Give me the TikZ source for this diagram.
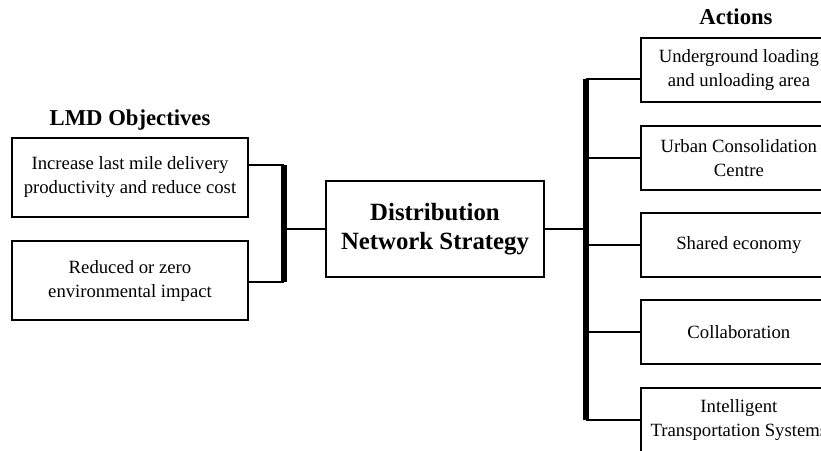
\documentclass[tikz,border=0pt]{standalone}
\usepackage{fontspec}
\setmainfont{Liberation Serif}
\begin{document}
\begin{tikzpicture}[x=1pt,y=-1pt,
  box/.style={draw,line width=1.8pt,align=center,inner sep=0pt,font=\fontsize{18.7}{24}\selectfont},
  objbox/.style={box,minimum width=236pt,minimum height=79pt},
  actbox/.style={box,minimum width=196pt,minimum height=64pt,anchor=west},
  link/.style={line width=1.8pt},
  bar/.style={line width=5.5pt},
  heading/.style={font=\bfseries\fontsize{22.7}{26}\selectfont}]
\useasboundingbox (0,0) rectangle (821,450);
\clip (0,0) rectangle (821,450);

% headings
\node[heading] (hobj) at (130,120) {LMD Objectives};
\node[heading] (hact) at (736,17) {Actions};

% objectives
\node[objbox] (o1) at (130,177.5) {Increase last mile delivery\\productivity and reduce cost};
\node[objbox] (o2) at (130,280.5) {Reduced or zero\\environmental impact};

% strategy
\node[box,minimum width=218pt,minimum height=96pt,
      font=\bfseries\fontsize{24.8}{29}\selectfont] (dns) at (435,229)
      {Distribution\\Network Strategy};

% actions
\node[actbox] (a1) at (640,70)  {Underground loading\\and unloading area};
\node[actbox] (a2) at (640,158) {Urban Consolidation\\Centre};
\node[actbox] (a3) at (640,245) {Shared economy};
\node[actbox] (a4) at (640,332) {Collaboration};
\node[actbox] (a5) at (640,420) {Intelligent\\Transportation Systems};

% left bracket
\coordinate (lt) at (284,165);
\coordinate (lb) at (284,282);
\coordinate (lm) at (284,229);
\draw[bar] (lt) -- (lb);
\draw[link] (lt -| o1.east) -- (lt);
\draw[link] (lb -| o2.east) -- (lb);
\draw[link] (lm) -- (dns.west);

% right bracket
\coordinate (rt) at (586,79);
\coordinate (rb) at (586,420);
\draw[bar] (rt) -- (rb);
\draw[link] (dns.east) -- (dns.east -| rt);
\draw[link] (rt) -- (rt -| a1.west);
\draw[link] (a2.west -| rt) -- (a2.west);
\draw[link] (a3.west -| rt) -- (a3.west);
\draw[link] (a4.west -| rt) -- (a4.west);
\draw[link] (rb) -- (a5.west);
\end{tikzpicture}
\end{document}
